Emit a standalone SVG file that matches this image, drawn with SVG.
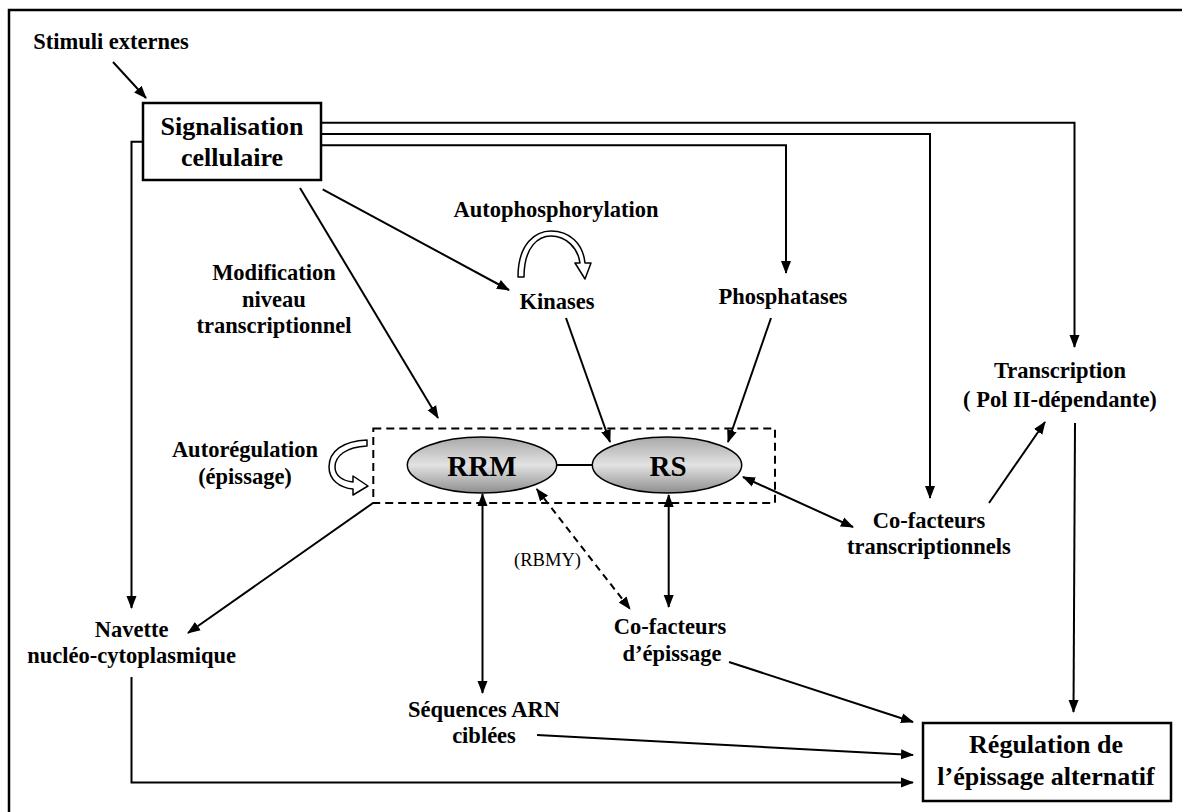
<svg xmlns="http://www.w3.org/2000/svg" width="1182" height="812" viewBox="0 0 1182 812">
<defs>
<style>
.t{font-family:"Liberation Serif","Times New Roman",serif;font-weight:bold;font-size:22.5px;fill:#000;text-anchor:middle}
.big{font-size:26px}
.dom{font-size:29px}
.reg{font-weight:normal;font-size:18.5px}
.box{fill:#fff;stroke:#000;stroke-width:2.5}
.ln{fill:none;stroke:#000;stroke-width:2}
.arr{marker-end:url(#ah)}
.dbl{marker-start:url(#ah);marker-end:url(#ah)}
.hollow{fill:#fff;stroke:#000;stroke-width:1.5;stroke-linejoin:round}
</style>
<marker id="ah" markerUnits="userSpaceOnUse" markerWidth="14" markerHeight="12" refX="12" refY="5" orient="auto-start-reverse" viewBox="0 0 14 10">
<path d="M0,0 L13,5 L0,10 z" fill="#000"/>
</marker>
<linearGradient id="eg" x1="0" y1="0" x2="0" y2="1">
<stop offset="0" stop-color="#a8a8a8"/>
<stop offset="0.5" stop-color="#e2e2e2"/>
<stop offset="1" stop-color="#8e8e8e"/>
</linearGradient>
</defs>
<rect x="9" y="10" width="1200" height="820" fill="#fff" stroke="#000" stroke-width="2.5"/>

<g id="connectors">
<path class="ln arr" d="M113,62 L146,98"/>
<path class="ln arr" d="M143,141.7 L131.5,141.7 L131.5,608"/>
<path class="ln arr" d="M321,122.7 L1074.5,122.7 L1074.5,347"/>
<path class="ln arr" d="M321,134 L930,134 L930,498"/>
<path class="ln arr" d="M321,145.3 L786,145.3 L786,273"/>
<path class="ln arr" d="M300,188 L438,418"/>
<path class="ln arr" d="M322.7,189.3 L509,290"/>
<path class="ln arr" d="M566,318 L610,442"/>
<path class="ln arr" d="M771,318 L728,442"/>
<path class="ln arr" d="M373,503 L188,633"/>
<path class="ln dbl" d="M482.5,494 L482.5,693"/>
<path class="ln" stroke-width="3" d="M556.7,465 L592.3,465"/>
<path class="ln dbl" stroke-dasharray="7,5" d="M536.7,489 L630,609"/>
<path class="ln dbl" d="M668.7,495 L668.7,607"/>
<path class="ln dbl" d="M743,477 L853,527"/>
<path class="ln arr" d="M989,503 L1045,422"/>
<path class="ln arr" d="M1075,423 L1073.5,712"/>
<path class="ln arr" d="M729,662 L913,722"/>
<path class="ln arr" d="M537,735 L913,755"/>
<path class="ln arr" d="M131.5,677 L131.5,782.5 L913,782.5"/>
</g>

<g id="stimuli"><text class="t" x="111" y="49">Stimuli externes</text></g>

<g id="signalisation">
<rect class="box" x="143" y="103" width="178" height="77"/>
<text class="t big" x="232" y="135">Signalisation</text>
<text class="t big" x="232" y="165.5">cellulaire</text>
</g>

<g id="autophosphorylation">
<text class="t" x="556" y="216.7">Autophosphorylation</text>
<path class="hollow" d="M518,277 C518,243 536,231 551,231 C569,231 583,243 585,263 L591,263 L585,279 L575,263 L580,263 C578,248 566,236 551,236 C539,236 524,246 524,277 Z"/>
</g>

<g id="modification">
<text class="t" x="274" y="280">Modification</text>
<text class="t" x="274" y="306.7">niveau</text>
<text class="t" x="274" y="333.3">transcriptionnel</text>
</g>

<g id="kinases"><text class="t" x="557" y="309">Kinases</text></g>
<g id="phosphatases"><text class="t" x="783" y="304">Phosphatases</text></g>

<g id="transcription">
<text class="t" x="1060" y="378">Transcription</text>
<text class="t" x="1060" y="406.7">( Pol II-dépendante)</text>
</g>

<g id="autoregulation">
<text class="t" x="245" y="457">Autorégulation</text>
<text class="t" x="245" y="484">(épissage)</text>
<path class="hollow" d="M367,440 L367,446 C346,447 335,456 335,467 C335,476 343,481 353,482 L353,476 L368,486 L353,495 L353,489 C340,488 329,480 329,467 C329,451 343,441 367,440 Z"/>
</g>

<g id="proteine">
<rect x="373.3" y="428.5" width="401.7" height="74.5" fill="none" stroke="#000" stroke-width="2" stroke-dasharray="8,5"/>
</g>
<g id="rrm">
<ellipse cx="482" cy="465" rx="74.7" ry="28" fill="url(#eg)" stroke="#000" stroke-width="1.5"/>
<text class="t dom" x="482" y="476">RRM</text>
</g>
<g id="rs">
<ellipse cx="667" cy="465" rx="74.7" ry="28" fill="url(#eg)" stroke="#000" stroke-width="1.5"/>
<text class="t dom" x="668" y="476">RS</text>
</g>

<g id="rbmy"><text class="t reg" x="547.5" y="566">(RBMY)</text></g>

<g id="cofacteurs-transcriptionnels">
<text class="t" x="929" y="527.7">Co-facteurs</text>
<text class="t" x="929" y="554">transcriptionnels</text>
</g>

<g id="navette">
<text class="t" x="131.7" y="637">Navette</text>
<text class="t" x="131.7" y="663">nucléo-cytoplasmique</text>
</g>

<g id="cofacteurs-epissage">
<text class="t" x="670" y="634.3">Co-facteurs</text>
<text class="t" x="672" y="660.5">d’épissage</text>
</g>

<g id="sequences">
<text class="t" x="484" y="716.7">Séquences ARN</text>
<text class="t" x="484" y="742.7">ciblées</text>
</g>

<g id="regulation">
<rect class="box" x="923" y="723" width="248" height="78"/>
<text class="t big" x="1046" y="753.3">Régulation de</text>
<text class="t big" x="1046" y="785">l’épissage alternatif</text>
</g>
</svg>
